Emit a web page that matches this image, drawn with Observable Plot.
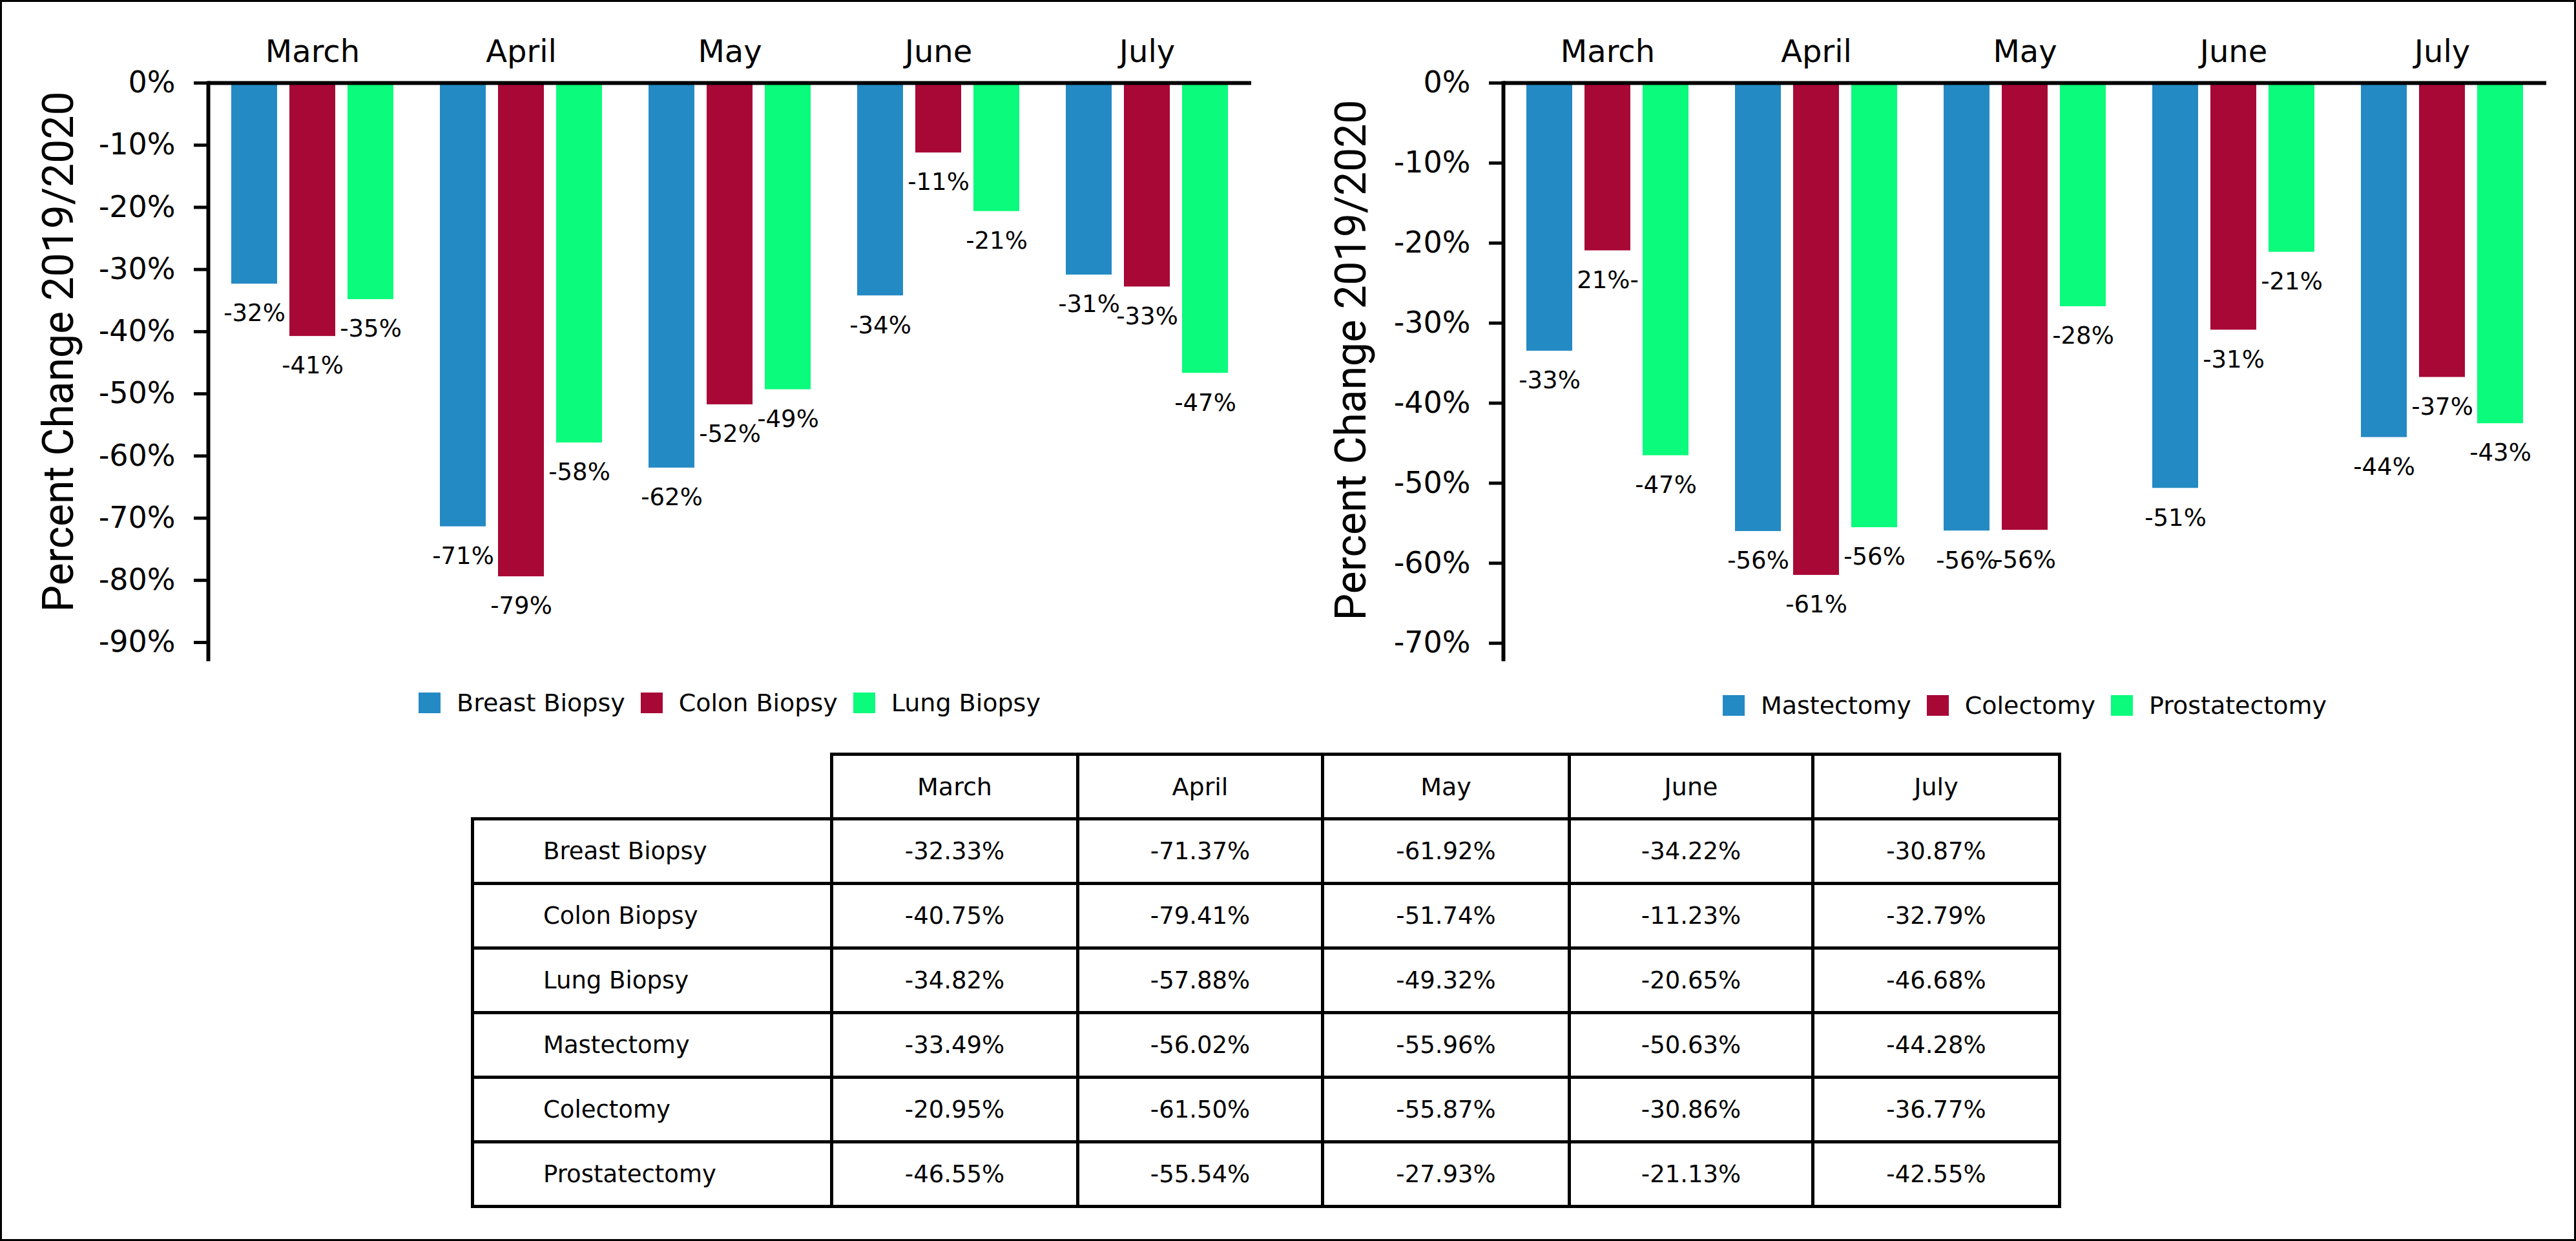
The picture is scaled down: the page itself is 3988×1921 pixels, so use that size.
<!DOCTYPE html>
<html>
<head>
<meta charset="utf-8">
<script src="https://cdn.jsdelivr.net/npm/d3@7"></script>
<script src="https://cdn.jsdelivr.net/npm/@observablehq/plot@0.6"></script>
<style>
  html, body { margin: 0; padding: 0; background: #fff; }
  #root { position: relative; width: 3988px; height: 1921px; background: #fff; font-family: "DejaVu Sans", sans-serif; overflow: hidden; }
  #frame { position: absolute; left: 0; top: 0; width: 3988px; height: 1921px; border: 3px solid #000; box-sizing: border-box; pointer-events: none; }
  .chart { position: absolute; top: 0; }
  .legend { position: absolute; display: flex; justify-content: center; align-items: center; height: 50px; font-size: 38px; color: #000; }
  .item { display: flex; align-items: center; margin: 0 12px; }
  .sw { display: inline-block; width: 34px; height: 32px; margin-right: 25px; }
  table { position: absolute; left: 729px; top: 1165px; border-collapse: collapse; table-layout: fixed; font-size: 37px; color: #000; }
  td { border: 5px solid #000; height: 100px; padding: 0; text-align: center; vertical-align: middle; box-sizing: border-box; }
  td.rowlab { text-align: left; padding-left: 107px; }
  td.blank { border-top: none; border-left: none; }
  tr.head td { font-size: 38px; }
</style>
</head>
<body>
<div id="root">
  <div id="leftChart" class="chart" style="left:0px"></div>
  <div id="rightChart" class="chart" style="left:2000px"></div>
  <div id="leftLegend" class="legend" style="left:322px; width:1615px; top:1063px"></div>
  <div id="rightLegend" class="legend" style="left:2327px; width:1615px; top:1067px"></div>
  <table id="tbl"></table>
  <div id="frame"></div>
</div>
<script>
// ---------- data ----------
const months = ["March", "April", "May", "June", "July"];
const biopsySeries = ["Breast Biopsy", "Colon Biopsy", "Lung Biopsy"];
const surgerySeries = ["Mastectomy", "Colectomy", "Prostatectomy"];

const breastBiopsy  = [-32.33, -71.37, -61.92, -34.22, -30.87];
const colonBiopsy   = [-40.75, -79.41, -51.74, -11.23, -32.79];
const lungBiopsy    = [-34.82, -57.88, -49.32, -20.65, -46.68];
const mastectomy    = [-33.49, -56.02, -55.96, -50.63, -44.28];
const colectomy     = [-20.95, -61.50, -55.87, -30.86, -36.77];
const prostatectomy = [-46.55, -55.54, -27.93, -21.13, -42.55];

// bar labels as printed on the chart
const breastBiopsyLabels  = ["-32%", "-71%", "-62%", "-34%", "-31%"];
const colonBiopsyLabels   = ["-41%", "-79%", "-52%", "-11%", "-33%"];
const lungBiopsyLabels    = ["-35%", "-58%", "-49%", "-21%", "-47%"];
const mastectomyLabels    = ["-33%", "-56%", "-56%", "-51%", "-44%"];
const colectomyLabels     = ["21%-", "-61%", "-56%", "-31%", "-37%"];
const prostatectomyLabels = ["-47%", "-56%", "-28%", "-21%", "-43%"];

// table values as printed
const tableRows = ["Breast Biopsy", "Colon Biopsy", "Lung Biopsy", "Mastectomy", "Colectomy", "Prostatectomy"];
const tableText = [
  ["-32.33%", "-71.37%", "-61.92%", "-34.22%", "-30.87%"],
  ["-40.75%", "-79.41%", "-51.74%", "-11.23%", "-32.79%"],
  ["-34.82%", "-57.88%", "-49.32%", "-20.65%", "-46.68%"],
  ["-33.49%", "-56.02%", "-55.96%", "-50.63%", "-44.28%"],
  ["-20.95%", "-61.50%", "-55.87%", "-30.86%", "-36.77%"],
  ["-46.55%", "-55.54%", "-27.93%", "-21.13%", "-42.55%"]
];

const leftTicks  = [0, -10, -20, -30, -40, -50, -60, -70, -80, -90];
const rightTicks = [0, -10, -20, -30, -40, -50, -60, -70];
const yTitle = "Percent Change 2019/2020";
const colors = ["#238AC4", "#A80836", "#0BFB7C"];

// ---------- build tables ----------
function buildRows(series, values, labels) {
  const rows = [];
  series.forEach((s, i) => months.forEach((m, j) => rows.push({month: m, series: s, value: values[i][j], label: labels[i][j]})));
  return rows;
}
const leftRows = buildRows(biopsySeries, [breastBiopsy, colonBiopsy, lungBiopsy], [breastBiopsyLabels, colonBiopsyLabels, lungBiopsyLabels]);
const rightRows = buildRows(surgerySeries, [mastectomy, colectomy, prostatectomy], [mastectomyLabels, colectomyLabels, prostatectomyLabels]);

function chart({rows, series, ticks, yMin, width, marginLeft, marginRight, titleDx, titleDy}) {
  return Plot.plot({
    width, height: 1040,
    marginTop: 128, marginBottom: 20, marginLeft, marginRight,
    style: {fontFamily: "DejaVu Sans", fontSize: "40px", background: "transparent", color: "#000"},
    fx: {domain: months, padding: 0},
    x: {domain: series, paddingInner: 0.215, paddingOuter: 0.392, axis: null},
    y: {domain: [yMin, 0]},
    color: {domain: series, range: colors},
    marks: [
      Plot.barY(rows, {fx: "month", x: "series", y: "value", fill: "series"}),
      Plot.text(rows, {fx: "month", x: "series", y: "value", text: "label", dy: 46, fontSize: 37, fill: "#000"}),
      Plot.ruleY([0], {stroke: "#000", strokeWidth: 6}),
      Plot.axisFx({anchor: "top", tickSize: 0, tickPadding: 33, fontSize: 48, label: null}),
      Plot.axisY(ticks, {anchor: "left", tickFormat: d => d + "%", tickSize: 22, tickPadding: 29, fontSize: 46, strokeWidth: 5, label: null}),
      Plot.frame({anchor: "left", stroke: "#000", strokeWidth: 6, facetAnchor: "left"}),
      Plot.text([yTitle], {frameAnchor: "left", textAnchor: "middle", lineAnchor: "middle", rotate: -90, dx: titleDx, dy: titleDy, fontSize: 66, fontFamily: "Roboto", fill: "#000", facetAnchor: "left"})
    ]
  });
}

document.getElementById("leftChart").append(chart({
  rows: leftRows, series: biopsySeries, ticks: leftTicks, yMin: -92.7,
  width: 1990, marginLeft: 322, marginRight: 53, titleDx: -231, titleDy: -30
}));
document.getElementById("rightChart").append(chart({
  rows: rightRows, series: surgerySeries, ticks: rightTicks, yMin: -72,
  width: 1988, marginLeft: 327, marginRight: 46, titleDx: -235, titleDy: -17
}));

// ---------- legends ----------
function legend(el, series) {
  series.forEach((s, i) => {
    const item = document.createElement("div");
    item.className = "item";
    const sw = document.createElement("span");
    sw.className = "sw";
    sw.style.background = colors[i];
    item.append(sw, document.createTextNode(s));
    el.append(item);
  });
}
legend(document.getElementById("leftLegend"), biopsySeries);
legend(document.getElementById("rightLegend"), surgerySeries);

// ---------- table ----------
const colWidths = [556, 381, 379, 382, 377, 382];
const tbl = document.getElementById("tbl");
const cg = document.createElement("colgroup");
colWidths.forEach(w => { const c = document.createElement("col"); c.style.width = w + "px"; cg.append(c); });
tbl.append(cg);
const head = document.createElement("tr");
head.className = "head";
const blank = document.createElement("td");
blank.className = "blank";
head.append(blank);
months.forEach(m => { const td = document.createElement("td"); td.textContent = m; head.append(td); });
tbl.append(head);
tableRows.forEach((r, i) => {
  const tr = document.createElement("tr");
  const lab = document.createElement("td");
  lab.className = "rowlab";
  lab.textContent = r;
  tr.append(lab);
  tableText[i].forEach(v => { const td = document.createElement("td"); td.textContent = v; tr.append(td); });
  tbl.append(tr);
});
</script>
</body>
</html>
